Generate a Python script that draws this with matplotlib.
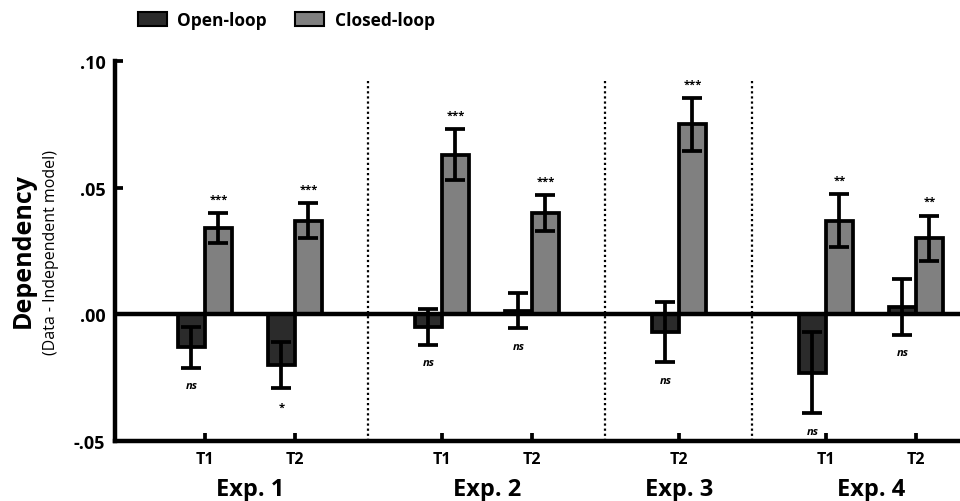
import numpy as np
import matplotlib.pyplot as plt
from matplotlib.patches import Patch

plt.rcParams['font.family'] = ['Open Sans', 'DejaVu Sans']

# ── Data ──────────────────────────────────────────────────────────────────────
tick_labels = ["T1", "T2", "T1", "T2", "T2", "T1", "T2"]
exp_labels = ["Exp. 1", "Exp. 2", "Exp. 3", "Exp. 4"]
exp_members = [[0, 1], [2, 3], [4], [5, 6]]

open_vals = [-0.013, -0.020, -0.005, 0.0015, -0.007, -0.023, 0.003]
open_err = [0.008, 0.009, 0.007, 0.007, 0.012, 0.016, 0.011]
open_sig = ["ns", "*", "ns", "ns", "ns", "ns", "ns"]

closed_vals = [0.034, 0.037, 0.063, 0.040, 0.075, 0.037, 0.030]
closed_err = [0.006, 0.007, 0.010, 0.007, 0.0105, 0.0105, 0.009]
closed_sig = ["***", "***", "***", "***", "***", "**", "**"]

# x positions: 1 unit within an experiment, wider gap between experiments
gap = 1.633
pos = np.array([0, 1, 1 + gap, 2 + gap, 2 + 2 * gap, 2 + 3 * gap, 3 + 3 * gap])

c_open = '#2b2b2b'
c_closed = '#808080'
w = 0.3
lw = 2.7

fig = plt.figure(figsize=(9.6, 5.02), dpi=100)
ax = fig.add_axes([0.1198, 0.1195, 0.8802, 0.757])

err_kw = dict(ecolor='black', elinewidth=lw, capsize=7, capthick=lw)
ax.bar(pos - w / 2, open_vals, w, yerr=open_err, color=c_open,
       edgecolor='black', linewidth=lw, error_kw=err_kw, zorder=3)
ax.bar(pos + w / 2, closed_vals, w, yerr=closed_err, color=c_closed,
       edgecolor='black', linewidth=lw, error_kw=err_kw, zorder=3)

# significance marks
for x, v, e, s in zip(pos, closed_vals, closed_err, closed_sig):
    ax.annotate(s, (x + w / 2, v + e), xytext=(0, 6), textcoords='offset points',
                ha='center', va='bottom', fontsize=8, fontweight='bold')
for x, v, e, s in zip(pos, open_vals, open_err, open_sig):
    if s == "ns":
        ax.annotate(s, (x - w / 2, min(v - e, v)), xytext=(0, -9),
                    textcoords='offset points', ha='center', va='top',
                    fontsize=8, fontstyle='italic', fontweight='bold')
    else:
        ax.annotate(s, (x - w / 2, min(v - e, v)), xytext=(0, -10),
                    textcoords='offset points', ha='center', va='top',
                    fontsize=8, fontweight='bold')

ax.axhline(0, color='black', linewidth=lw + 0.5, zorder=4)

# dotted dividers between experiments
for a, b in [(1, 2), (3, 4), (4, 5)]:
    ax.vlines((pos[a] + pos[b]) / 2, -0.05, 0.093, colors='black',
              linestyles=(0, (1, 1.3)), linewidth=1.6, zorder=1)

ax.set_xlim(-1.0, 8.39)
ax.set_ylim(-0.05, 0.10)
ax.set_yticks([-0.05, 0.0, 0.05, 0.10])
ax.set_yticklabels(['-.05', '.00', '.05', '.10'], fontweight='bold', fontsize=13)
ax.set_xticks(pos)
ax.set_xticklabels(tick_labels, fontweight='bold', fontsize=11.5)
ax.tick_params(axis='both', direction='in', length=6, width=lw, pad=7)

for sp in ['top', 'right']:
    ax.spines[sp].set_visible(False)
for sp in ['left', 'bottom']:
    ax.spines[sp].set_linewidth(lw + 0.5)

for lab, mem in zip(exp_labels, exp_members):
    ax.text(np.mean(pos[mem]), -0.069, lab, ha='center', va='center',
            fontsize=17, fontweight='bold')

fig.text(0.024, 0.5, 'Dependency', rotation=90, ha='center', va='center',
         fontsize=18, fontweight='bold')
fig.text(0.053, 0.497, '(Data - Independent model)', rotation=90,
         ha='center', va='center', fontsize=11.5)

handles = [Patch(facecolor=c_open, edgecolor='black', linewidth=1.5, label='Open-loop'),
           Patch(facecolor=c_closed, edgecolor='black', linewidth=1.5, label='Closed-loop')]
fig.legend(handles=handles, loc='center left', bbox_to_anchor=(0.127, 0.958),
           ncol=2, frameon=False, prop={'weight': 'bold', 'size': 12.5},
           handlelength=1.7, handleheight=0.9, columnspacing=1.6,
           handletextpad=0.6)

fig.savefig('out.png', dpi=100)
